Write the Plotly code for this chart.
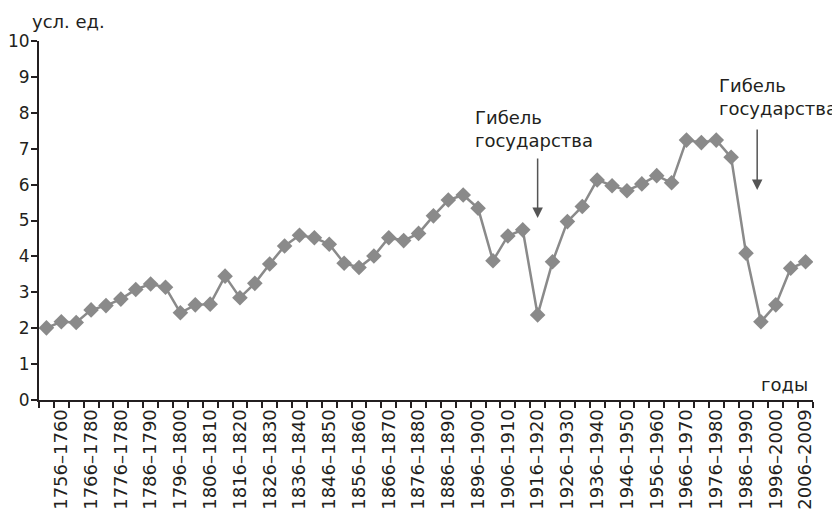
import plotly.graph_objects as go

# 5-year periods (first period precedes the first labelled one)
periods = [f"{y}–{y + 4}" for y in range(1751, 2006, 5)] + ["2006–2009"]
values = [2.01, 2.18, 2.16, 2.51, 2.63, 2.81, 3.08, 3.23, 3.14, 2.43,
          2.65, 2.67, 3.45, 2.85, 3.25, 3.79, 4.29, 4.59, 4.52, 4.34,
          3.81, 3.69, 4.01, 4.52, 4.44, 4.64, 5.13, 5.57, 5.71, 5.34,
          3.88, 4.57, 4.74, 2.37, 3.85, 4.97, 5.39, 6.13, 5.97, 5.83,
          6.02, 6.25, 6.05, 7.24, 7.17, 7.24, 6.76, 4.09, 2.18, 2.65,
          3.67, 3.85]
# labels as printed on the original (every other period)
shown_labels = ["1756–1760", "1766–1780", "1776–1780", "1786–1790", "1796–1800",
                "1806–1810", "1816–1820", "1826–1830", "1836–1840", "1846–1850",
                "1856–1860", "1866–1870", "1876–1880", "1886–1890", "1896–1900",
                "1906–1910", "1916–1920", "1926–1930", "1936–1940", "1946–1950",
                "1956–1960", "1966–1970", "1976–1980", "1986–1990", "1996–2000",
                "2006–2009"]
y_ticks = list(range(0, 11))

ticktext = []
li = 0
for i, p in enumerate(periods):
    if i % 2 == 1:
        ticktext.append(shown_labels[li])
        li += 1
    else:
        ticktext.append("")

FONT = "DejaVu Sans"
TXT = "#231f20"
GRAY = "#8a8a8a"

fig = go.Figure()
fig.add_trace(go.Scatter(
    x=periods, y=values, mode="lines+markers",
    line=dict(color=GRAY, width=2.5),
    marker=dict(symbol="diamond", size=12, color=GRAY),
    showlegend=False,
))

# page body has an 8px default margin, so the figure is 8px smaller
fig.update_layout(
    template="none",
    width=832, height=509,
    margin=dict(l=31, r=27, t=33, b=117, pad=0),
    paper_bgcolor="white", plot_bgcolor="white",
    font=dict(family=FONT, size=18, color=TXT),
    xaxis=dict(
        type="category", tickmode="array", tickvals=periods, ticktext=ticktext,
        tickson="boundaries", ticks="outside", ticklen=6, tickwidth=2,
        tickcolor="#231f20", tickangle=-90, showline=True, linecolor="#231f20",
        linewidth=2, showgrid=False, zeroline=False, automargin=False,
        range=[-0.5, len(periods) - 0.5],
        tickfont=dict(family=FONT, size=18, color=TXT),
    ),
    yaxis=dict(
        range=[0, 10], tickmode="array", tickvals=y_ticks,
        ticks="outside", ticklen=6, tickwidth=2, tickcolor="#231f20",
        showline=True, linecolor="#231f20", linewidth=2,
        showgrid=False, zeroline=False, automargin=False,
        ticklabelstandoff=-2,
        tickfont=dict(family=FONT, size=17, color=TXT),
    ),
)

ann = []
ann.append(dict(text="усл. ед.", xref="paper", yref="paper", x=-0.012, y=1.053,
                xanchor="left", yanchor="middle", showarrow=False,
                font=dict(family=FONT, size=18, color=TXT)))
ann.append(dict(text="годы", xref="paper", yref="paper", x=0.996, y=0.042,
                xanchor="right", yanchor="middle", showarrow=False,
                font=dict(family=FONT, size=18, color=TXT)))
for (tx, ty) in [(0.5607, 0.755), (0.876, 0.845)]:
    ann.append(dict(text="Гибель<br>государства", xref="paper", yref="paper",
                    x=tx, y=ty, xanchor="left", yanchor="middle", align="left",
                    showarrow=False, font=dict(family=FONT, size=18, color=TXT)))
for (axx, ayy, dy) in [(33, 5.07, -61), (47.75, 5.85, -62)]:
    ann.append(dict(text="", x=axx, y=ayy, xref="x", yref="y", showarrow=True,
                    ax=0, ay=dy, arrowhead=2, arrowsize=1.4, arrowwidth=1.5,
                    arrowcolor="#555555", standoff=0))
fig.update_layout(annotations=ann)

fig.write_html("out.html")
